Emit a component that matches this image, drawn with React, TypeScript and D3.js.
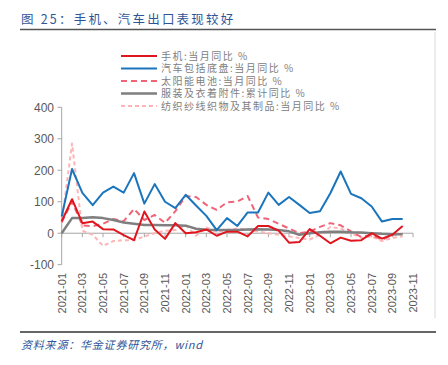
import * as d3 from 'd3';

const months = [
  '2021-01', '2021-02', '2021-03', '2021-04', '2021-05', '2021-06', '2021-07', '2021-08', '2021-09', '2021-10', '2021-11', '2021-12',
  '2022-01', '2022-02', '2022-03', '2022-04', '2022-05', '2022-06', '2022-07', '2022-08', '2022-09', '2022-10', '2022-11', '2022-12',
  '2023-01', '2023-02', '2023-03', '2023-04', '2023-05', '2023-06', '2023-07', '2023-08', '2023-09', '2023-10', '2023-11',
];
const tickLabels = months.filter((_, i) => i % 2 === 0);
const yTicks = [-100, 0, 100, 200, 300, 400];

// 手机:当月同比
const phone = [38, 108, 32, 37, 13, 12, -6, -22, 69, 12, -18, 32, 0, 3, 12, -8, 5, 5, -10, 23, 23, 8, -30, -28, 13, -8, -32, -14, -24, -22, 0, -17, -5, 23];
// 汽车包括底盘:当月同比
const auto = [53, 204, 128, 89, 129, 148, 129, 191, 94, 156, 100, 80, 122, 88, 55, 10, 48, 23, 66, 66, 129, 90, 115, 90, 64, 70, 127, 196, 125, 111, 85, 37, 45, 45];
// 太阳能电池:当月同比
const solar = [35, 100, 25, 22, 30, 45, 38, 77, 42, 58, 33, 70, 118, 115, 90, 74, 98, 101, 118, 50, 45, 30, 15, 0, 5, 20, 32, 25, 6, -12, -5, -21, -5, 0];
// 服装及衣着附件:累计同比
const apparel = [0, 48, 48, 51, 48, 42, 34, 30, 26, 26, 25, 25, 24, 14, 11, 10, 10, 10, 12, 13, 12, 10, 6, -5, 0, 3, 5, 5, 3, 2, 0, -2, -3, -3];
// 纺织纱线织物及其制品:当月同比
const textile = [33, 285, 8, -5, -40, -25, -22, -22, -10, 0, 8, 10, 25, -8, 18, 5, 10, 15, 12, 5, 0, -5, -10, -15, -20, -5, 20, 15, 0, -15, -10, -25, -15, -10];

const seriesNames = ['手机:当月同比 %', '汽车包括底盘:当月同比 %', '太阳能电池:当月同比 %', '服装及衣着附件:累计同比 %', '纺织纱线织物及其制品:当月同比 %'];

const styles = [
  { color: '#E0161F', width: 2, dash: null as string | null },
  { color: '#1B75BC', width: 2, dash: null },
  { color: '#EF6477', width: 2, dash: '6,4' },
  { color: '#7F7F7F', width: 2.5, dash: null },
  { color: '#FFB4B6', width: 2, dash: '4,3' },
];

const W = 448;
const H = 365;
const blue = '#2F5597';
const cjk = '"Noto Sans CJK SC", "Liberation Sans", sans-serif';
const num = '"Liberation Sans", Arial, sans-serif';

export default function App() {
  const x = d3.scalePoint<string>().domain(months).range([61.7, 413]);
  const y = d3.scaleLinear().domain([-100, 400]).range([264.7, 107.3]);
  const allSeries = [phone, auto, solar, apparel, textile];
  const line = d3.line<number>().x((_, i) => x(months[i])!).y((d) => y(d));
  const drawOrder = [4, 2, 3, 1, 0];

  return (
    <svg width={W} height={H} style={{ position: 'absolute', left: 0, top: 0, background: '#fff' }}>
      <text x={21} y={24} fontFamily={cjk} fontSize={12.5} letterSpacing={2.2} fill={blue}>图 25：手机、汽车出口表现较好</text>
      <line x1={20} x2={436} y1={29.5} y2={29.5} stroke="#555" strokeWidth={1.5} />
      <line x1={435} x2={435} y1={32} y2={318} stroke="#d9d9d9" strokeWidth={1} />

      {/* y axis */}
      <line x1={61.7} x2={61.7} y1={y(400)} y2={y(-100)} stroke="#a6a6a6" />
      {yTicks.map((t) => (
        <g key={t}>
          <line x1={57.5} x2={61.7} y1={y(t)} y2={y(t)} stroke="#a6a6a6" />
          <text x={54} y={y(t)} dy="0.36em" textAnchor="end" fontFamily={num} fontSize={12} fill="#595959">{t}</text>
        </g>
      ))}

      {/* x axis at zero */}
      <line x1={61.7} x2={413} y1={y(0)} y2={y(0)} stroke="#a6a6a6" />
      {tickLabels.map((m) => (
        <g key={m}>
          <line x1={x(m)} x2={x(m)} y1={y(0)} y2={y(0) + 4} stroke="#a6a6a6" />
          <text transform={`translate(${x(m)! + 4},273) rotate(-90)`} textAnchor="end" fontFamily={num} fontSize={11} fill="#595959">{m}</text>
        </g>
      ))}

      {drawOrder.map((k) => (
        <path key={k} d={line(allSeries[k])!} fill="none" stroke={styles[k].color} strokeWidth={styles[k].width}
          strokeDasharray={styles[k].dash ?? undefined} strokeLinejoin="round" />
      ))}

      {/* legend */}
      {seriesNames.map((n, i) => {
        const ly = 56 + i * 12.5;
        return (
          <g key={n}>
            <line x1={121} x2={157} y1={ly} y2={ly} stroke={styles[i].color} strokeWidth={styles[i].width}
              strokeDasharray={styles[i].dash ?? undefined} />
            <text x={161} y={ly} dy="0.36em" fontFamily={cjk} fontSize={10} letterSpacing={1.5} fill="#808080">{n}</text>
          </g>
        );
      })}

      <line x1={20} x2={436} y1={332} y2={332} stroke="#333" strokeWidth={1.5} />
      <text x={21} y={349} fontFamily={cjk} fontSize={11} fontStyle="italic" letterSpacing={0.8} fill={blue}>资料来源：华金证券研究所，wind</text>
    </svg>
  );
}
